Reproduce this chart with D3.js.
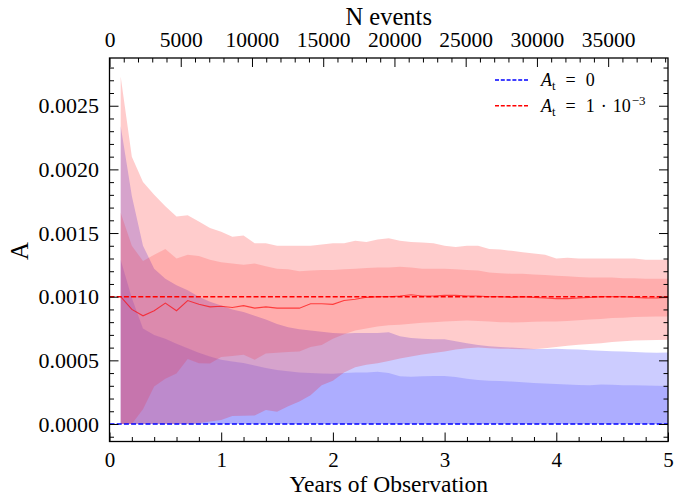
<!DOCTYPE html>
<html>
<head>
<meta charset="utf-8">
<script src="https://cdn.jsdelivr.net/npm/d3@7"></script>
<style>
  html, body { margin: 0; padding: 0; background: #fff; }
  svg text { font-family: "Liberation Serif", "Times New Roman", serif; fill: #000; }
</style>
</head>
<body>
<svg id="chart" width="676" height="496"></svg>
<script>
// ---------------- data (A values in units of 1e-4) ----------------
const UNIT = 1e-4;
const years = [0.1,0.2,0.3,0.4,0.5,0.6,0.7,0.8,0.9,1.0,
               1.1,1.2,1.3,1.4,1.5,1.6,1.7,1.8,1.9,2.0,
               2.1,2.2,2.3,2.4,2.5,2.6,2.7,2.8,2.9,3.0,
               3.1,3.2,3.3,3.4,3.5,3.6,3.7,3.8,3.9,4.0,
               4.1,4.2,4.3,4.4,4.5,4.6,4.7,4.8,4.9,5.0];

// A_t = 1e-3 : median, 1-sigma band, 2-sigma band
const redMedian = [10.0,9.0,8.5,8.9,9.5,8.9,9.7,9.4,9.2,9.25,
                   9.15,9.3,9.1,9.2,9.1,9.1,9.1,9.45,9.45,9.4,
                   9.7,9.8,9.95,10.0,10.0,10.05,10.15,10.05,10.05,10.1,
                   10.1,10.05,10.05,10.0,10.0,9.95,10.0,9.95,9.9,9.85,
                   9.85,9.9,9.95,10.0,10.0,10.0,9.95,9.9,9.9,9.95];
const red1Hi = [16.6,14.0,12.8,13.3,13.75,13.0,13.3,13.2,12.9,12.7,
                12.6,12.5,12.6,12.4,12.2,12.15,12.0,12.05,12.1,12.1,
                12.15,12.2,12.25,12.3,12.3,12.35,12.3,12.2,12.2,12.2,
                12.15,12.1,12.05,11.9,11.85,11.8,11.8,11.75,11.7,11.65,
                11.6,11.55,11.5,11.5,11.5,11.45,11.45,11.4,11.4,11.4];
const red1Lo = [0.0,0.0,1.15,2.95,3.55,3.97,5.1,4.78,4.76,5.27,
                5.35,5.43,5.04,5.53,5.6,5.65,5.7,6.05,6.2,6.7,
                7.05,7.35,7.5,7.65,7.75,7.8,7.87,7.95,8.0,8.05,
                8.1,8.13,8.1,8.05,8.0,7.98,8.0,8.03,8.05,8.06,
                8.1,8.15,8.2,8.25,8.32,8.35,8.4,8.42,8.45,8.45];
const red2Hi = [27.3,21.0,19.0,18.0,17.1,16.3,16.4,15.9,15.4,15.1,
                14.7,14.8,14.2,14.2,14.0,14.0,14.0,14.0,14.1,14.2,
                14.2,14.4,14.3,14.5,14.6,14.4,14.3,14.25,14.2,14.0,
                13.9,14.0,14.0,13.75,13.7,13.6,13.5,13.4,13.3,13.0,
                13.05,13.0,13.0,13.0,13.0,13.0,13.0,12.9,12.9,12.9];
const red2Lo = [0.0,0.0,0.0,0.0,0.0,0.0,0.0,0.05,0.2,0.31,
                0.63,0.65,0.66,1.1,0.97,1.4,1.76,2.25,3.05,3.4,
                4.05,4.45,4.65,4.78,4.95,5.15,5.3,5.45,5.57,5.7,
                5.85,5.95,6.0,5.95,5.92,5.9,5.88,5.88,5.95,6.05,
                6.15,6.22,6.28,6.35,6.45,6.5,6.55,6.58,6.6,6.62];

// A_t = 0 : 1-sigma and 2-sigma bands (lower edge at 0)
const blueLo = [0,0,0,0,0,0,0,0,0,0,
                0,0,0,0,0,0,0,0,0,0,
                0,0,0,0,0,0,0,0,0,0,
                0,0,0,0,0,0,0,0,0,0,
                0,0,0,0,0,0,0,0,0,0];
const blue1Hi = [12.9,9.9,7.5,7.0,6.7,6.3,5.95,5.6,5.3,5.05,
                 4.9,4.8,4.6,4.4,4.25,4.15,4.05,4.0,3.97,3.94,
                 4.0,4.05,4.05,4.1,4.0,3.75,3.72,3.75,3.78,3.78,
                 3.7,3.55,3.45,3.4,3.38,3.33,3.28,3.22,3.18,3.15,
                 3.1,3.07,3.05,3.1,3.08,3.05,3.05,3.02,3.0,2.99];
const blue2Hi = [23.4,17.9,14.0,12.2,11.4,10.9,10.5,10.0,9.6,9.3,
                 9.0,8.8,8.5,8.2,7.85,7.6,7.45,7.35,7.25,7.15,
                 7.1,7.15,7.15,7.15,7.2,6.9,6.75,6.7,6.65,6.65,
                 6.5,6.35,6.2,6.1,6.05,6.0,5.95,5.9,5.9,5.92,
                 5.88,5.85,5.8,5.75,5.72,5.7,5.65,5.62,5.6,5.62];

const trueValues = [0, 1e-3];   // dashed reference lines (A_t)

// tick values
const xMajorTicks = [0,1,2,3,4,5];
const xMinorTicks = [0.2,0.4,0.6,0.8,1.2,1.4,1.6,1.8,2.2,2.4,2.6,2.8,3.2,3.4,3.6,3.8,4.2,4.4,4.6,4.8];
const yMajorTicks = [0,0.0005,0.001,0.0015,0.002,0.0025];
const yMinorTicks = [-0.0001,0.0001,0.0002,0.0003,0.0004,0.0006,0.0007,0.0008,0.0009,
                     0.0011,0.0012,0.0013,0.0014,0.0016,0.0017,0.0018,0.0019,
                     0.0021,0.0022,0.0023,0.0024,0.0026,0.0027,0.0028];
const nMajorTicks = [0,5000,10000,15000,20000,25000,30000,35000];
const nMinorTicks = [1000,2000,3000,4000,6000,7000,8000,9000,11000,12000,13000,14000,
                     16000,17000,18000,19000,21000,22000,23000,24000,26000,27000,28000,29000,
                     31000,32000,33000,34000,36000,37000,38000,39000];
const nEventsMax = 39200;  // N events at 5 years

// ---------------- layout ----------------
const L = 109.5, R = 668, T = 58, B = 441.5;
const svg = d3.select("#chart");

const x = d3.scaleLinear().domain([0, 5]).range([L, R]);
const y = d3.scaleLinear().domain([-0.0001375, 0.002875]).range([B, T]);
const xTop = d3.scaleLinear().domain([0, nEventsMax]).range([L, R]);

svg.append("defs").append("clipPath").attr("id", "clip")
  .append("rect").attr("x", L).attr("y", T).attr("width", R - L).attr("height", B - T);

const plot = svg.append("g").attr("clip-path", "url(#clip)");

const rows = years.map((t, i) => ({
  t,
  rMed: redMedian[i] * UNIT,
  r1h: red1Hi[i] * UNIT, r1l: red1Lo[i] * UNIT,
  r2h: red2Hi[i] * UNIT, r2l: red2Lo[i] * UNIT,
  bl: blueLo[i] * UNIT,
  b1h: blue1Hi[i] * UNIT, b2h: blue2Hi[i] * UNIT
}));

function band(lo, hi) {
  return d3.area().x(d => x(d.t)).y0(d => y(d[lo])).y1(d => y(d[hi]));
}

// blue bands first, then red on top
plot.append("path").datum(rows).attr("d", band("bl", "b2h"))
  .attr("fill", "#0000ff").attr("fill-opacity", 0.2);
plot.append("path").datum(rows).attr("d", band("bl", "b1h"))
  .attr("fill", "#0000ff").attr("fill-opacity", 0.15);
plot.append("path").datum(rows).attr("d", band("r2l", "r2h"))
  .attr("fill", "#ff0000").attr("fill-opacity", 0.2);
plot.append("path").datum(rows).attr("d", band("r1l", "r1h"))
  .attr("fill", "#ff0000").attr("fill-opacity", 0.15);

// red median line
plot.append("path").datum(rows)
  .attr("d", d3.line().x(d => x(d.t)).y(d => y(d.rMed)))
  .attr("fill", "none").attr("stroke", "#ff0000").attr("stroke-opacity", 0.65)
  .attr("stroke-width", 1.1);

// dashed truth lines
const trueColors = ["#0000ff", "#ff0000"];
trueValues.forEach((v, i) => {
  plot.append("line")
    .attr("x1", x(0)).attr("x2", x(5)).attr("y1", y(v)).attr("y2", y(v))
    .attr("stroke", trueColors[i]).attr("stroke-width", 1.4)
    .attr("stroke-dasharray", "5,2.2");
});

// ---------------- axes ----------------
function styleAxis(g, fs) {
  g.select(".domain").remove();
  g.selectAll("line").attr("stroke", "#000").attr("stroke-width", 1);
  g.selectAll("text").attr("font-size", fs).attr("font-family", "Liberation Serif");
}

// bottom
svg.append("g").attr("transform", `translate(0,${B})`)
  .call(d3.axisBottom(x).tickValues(xMajorTicks).tickSize(-9).tickPadding(10.5).tickFormat(d3.format("d")))
  .call(g => styleAxis(g, 21));
svg.append("g").attr("transform", `translate(0,${B})`)
  .call(d3.axisBottom(x).tickValues(xMinorTicks).tickSize(-4.5).tickFormat(""))
  .call(g => styleAxis(g, 21));

// top (N events)
svg.append("g").attr("transform", `translate(0,${T})`)
  .call(d3.axisTop(xTop).tickValues(nMajorTicks).tickSize(-9).tickPadding(11).tickFormat(d3.format("d")))
  .call(g => styleAxis(g, 21.5));
svg.append("g").attr("transform", `translate(0,${T})`)
  .call(d3.axisTop(xTop).tickValues(nMinorTicks).tickSize(-4.5).tickFormat(""))
  .call(g => styleAxis(g, 21.5));

// left
svg.append("g").attr("transform", `translate(${L},0)`)
  .call(d3.axisLeft(y).tickValues(yMajorTicks).tickSize(-9).tickPadding(10.5).tickFormat(d3.format(".4f")))
  .call(g => styleAxis(g, 22));
svg.append("g").attr("transform", `translate(${L},0)`)
  .call(d3.axisLeft(y).tickValues(yMinorTicks).tickSize(-4.5).tickFormat(""))
  .call(g => styleAxis(g, 22));

// right
svg.append("g").attr("transform", `translate(${R},0)`)
  .call(d3.axisRight(y).tickValues(yMajorTicks).tickSize(-9).tickFormat(""))
  .call(g => styleAxis(g, 22));
svg.append("g").attr("transform", `translate(${R},0)`)
  .call(d3.axisRight(y).tickValues(yMinorTicks).tickSize(-4.5).tickFormat(""))
  .call(g => styleAxis(g, 22));

// frame
svg.append("rect").attr("x", L).attr("y", T).attr("width", R - L).attr("height", B - T)
  .attr("fill", "none").attr("stroke", "#000").attr("stroke-width", 1.3);

// axis labels
svg.append("text").attr("x", (L + R) / 2).attr("y", 491.5).attr("text-anchor", "middle")
  .attr("font-size", 23.5).text("Years of Observation");
svg.append("text").attr("x", (L + R) / 2).attr("y", 25).attr("text-anchor", "middle")
  .attr("font-size", 24.5).text("N events");
svg.append("text").attr("transform", "translate(28,251) rotate(-90)").attr("text-anchor", "middle")
  .attr("font-size", 25).text("A");

// ---------------- legend ----------------
const legendEntries = [
  { color: "#0000ff", parts: ["0"], exp: null },
  { color: "#ff0000", parts: ["1", "\u00B7", "10"], exp: "\u22123" }
];
const lg = svg.append("g");
legendEntries.forEach((e, i) => {
  const cy = 80 + i * 25.7;
  lg.append("line").attr("x1", 495).attr("x2", 528).attr("y1", cy).attr("y2", cy)
    .attr("stroke", e.color).attr("stroke-width", 1.4).attr("stroke-dasharray", "4,1.8");
  const t = lg.append("text").attr("x", 541).attr("y", cy + 6).attr("font-size", 18);
  t.append("tspan").attr("font-style", "italic").text("A");
  t.append("tspan").attr("font-size", 12.5).attr("dy", 4).text("t");
  t.append("tspan").attr("dx", 10).attr("dy", -4).text("=");
  e.parts.forEach((p, k) => {
    t.append("tspan").attr("dx", k === 0 ? 10 : 6).text(p);
  });
  if (e.exp) t.append("tspan").attr("font-size", 13).attr("dy", -7).attr("dx", 1).text(e.exp);
});
</script>
</body>
</html>
